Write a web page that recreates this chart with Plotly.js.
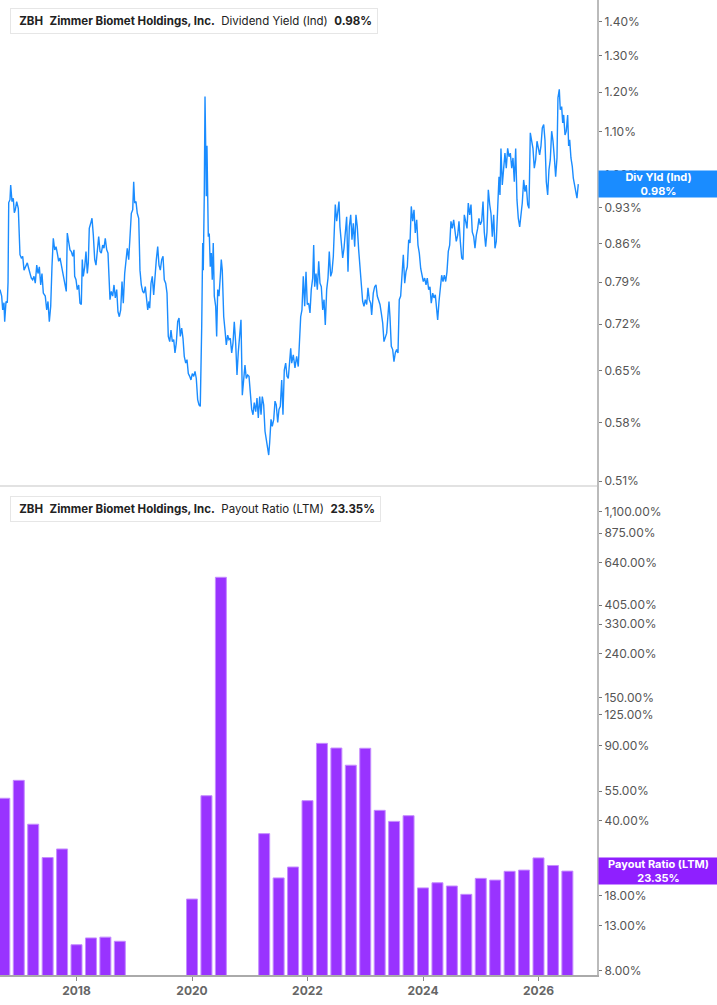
<!DOCTYPE html>
<html>
<head>
<meta charset="utf-8">
<script src="https://cdn.plot.ly/plotly-3.0.1.min.js"></script>
<style>
  html, body { margin: 0; padding: 0; background: #fff; }
  #plot { width: 717px; height: 1005px; }
</style>
</head>
<body>
<div id="plot"></div>
<script>
// dividend yield (Ind), % - dates as decimal years
const yieldYears = [
  2016.675, 2016.704, 2016.722, 2016.744, 2016.756, 2016.779, 2016.801, 2016.814, 2016.826, 2016.848,
  2016.860, 2016.883, 2016.905, 2016.923, 2016.940, 2016.964, 2016.992, 2017.009, 2017.021, 2017.044,
  2017.068, 2017.091, 2017.125, 2017.148, 2017.172, 2017.195, 2017.217, 2017.241, 2017.264, 2017.286,
  2017.311, 2017.333, 2017.356, 2017.380, 2017.402, 2017.425, 2017.459, 2017.484, 2017.506, 2017.529,
  2017.553, 2017.575, 2017.598, 2017.622, 2017.645, 2017.667, 2017.691, 2017.714, 2017.736, 2017.761,
  2017.783, 2017.806, 2017.823, 2017.840, 2017.865, 2017.887, 2017.910, 2017.934, 2017.956, 2017.968,
  2017.991, 2018.013, 2018.038, 2018.060, 2018.083, 2018.100, 2018.117, 2018.142, 2018.164, 2018.187,
  2018.204, 2018.221, 2018.246, 2018.268, 2018.291, 2018.315, 2018.337, 2018.360, 2018.384, 2018.407,
  2018.429, 2018.453, 2018.476, 2018.498, 2018.523, 2018.545, 2018.568, 2018.580, 2018.602, 2018.627,
  2018.649, 2018.672, 2018.696, 2018.718, 2018.741, 2018.765, 2018.788, 2018.810, 2018.834, 2018.857,
  2018.879, 2018.904, 2018.926, 2018.949, 2018.973, 2018.990, 2019.007, 2019.030, 2019.052, 2019.077,
  2019.099, 2019.122, 2019.146, 2019.168, 2019.191, 2019.215, 2019.233, 2019.255, 2019.267, 2019.290,
  2019.312, 2019.336, 2019.359, 2019.382, 2019.406, 2019.428, 2019.451, 2019.475, 2019.498, 2019.520,
  2019.544, 2019.567, 2019.589, 2019.614, 2019.636, 2019.659, 2019.683, 2019.705, 2019.728, 2019.752,
  2019.775, 2019.797, 2019.821, 2019.844, 2019.866, 2019.891, 2019.913, 2019.936, 2019.960, 2019.982,
  2020.005, 2020.029, 2020.052, 2020.074, 2020.098, 2020.121, 2020.143, 2020.155, 2020.168, 2020.185,
  2020.195, 2020.212, 2020.225, 2020.237, 2020.247, 2020.259, 2020.271, 2020.282, 2020.299, 2020.316,
  2020.334, 2020.351, 2020.368, 2020.386, 2020.410, 2020.427, 2020.445, 2020.467, 2020.490, 2020.507,
  2020.524, 2020.549, 2020.571, 2020.594, 2020.618, 2020.640, 2020.663, 2020.687, 2020.710, 2020.732,
  2020.756, 2020.779, 2020.802, 2020.826, 2020.848, 2020.871, 2020.895, 2020.917, 2020.940, 2020.964,
  2020.987, 2021.009, 2021.033, 2021.056, 2021.078, 2021.103, 2021.125, 2021.148, 2021.172, 2021.195,
  2021.217, 2021.241, 2021.264, 2021.286, 2021.311, 2021.328, 2021.345, 2021.368, 2021.390, 2021.415,
  2021.437, 2021.459, 2021.484, 2021.506, 2021.529, 2021.553, 2021.575, 2021.598, 2021.622, 2021.645,
  2021.667, 2021.691, 2021.709, 2021.726, 2021.754, 2021.783, 2021.812, 2021.840, 2021.857, 2021.882,
  2021.904, 2021.927, 2021.951, 2021.974, 2021.996, 2022.020, 2022.043, 2022.065, 2022.090, 2022.107,
  2022.124, 2022.147, 2022.170, 2022.194, 2022.216, 2022.239, 2022.263, 2022.286, 2022.308, 2022.332,
  2022.355, 2022.377, 2022.401, 2022.424, 2022.447, 2022.464, 2022.481, 2022.505, 2022.528, 2022.545,
  2022.562, 2022.585, 2022.609, 2022.632, 2022.654, 2022.678, 2022.701, 2022.724, 2022.748, 2022.770,
  2022.793, 2022.817, 2022.839, 2022.862, 2022.886, 2022.909, 2022.931, 2022.955, 2022.978, 2023.001,
  2023.025, 2023.047, 2023.070, 2023.094, 2023.111, 2023.139, 2023.163, 2023.186, 2023.208, 2023.233,
  2023.255, 2023.278, 2023.302, 2023.324, 2023.347, 2023.371, 2023.394, 2023.411, 2023.428, 2023.451,
  2023.475, 2023.497, 2023.520, 2023.544, 2023.567, 2023.589, 2023.613, 2023.636, 2023.659, 2023.683,
  2023.705, 2023.728, 2023.752, 2023.775, 2023.797, 2023.821, 2023.844, 2023.866, 2023.891, 2023.913,
  2023.936, 2023.960, 2023.982, 2024.005, 2024.029, 2024.052, 2024.074, 2024.098, 2024.121, 2024.143,
  2024.168, 2024.190, 2024.213, 2024.237, 2024.254, 2024.277, 2024.299, 2024.323, 2024.346, 2024.369,
  2024.393, 2024.415, 2024.438, 2024.462, 2024.484, 2024.507, 2024.531, 2024.554, 2024.576, 2024.601,
  2024.623, 2024.646, 2024.670, 2024.692, 2024.715, 2024.739, 2024.762, 2024.784, 2024.808, 2024.831,
  2024.853, 2024.878, 2024.900, 2024.923, 2024.947, 2024.969, 2024.992, 2025.016, 2025.039, 2025.061,
  2025.085, 2025.108, 2025.131, 2025.155, 2025.177, 2025.200, 2025.224, 2025.246, 2025.269, 2025.293,
  2025.316, 2025.333, 2025.350, 2025.373, 2025.397, 2025.419, 2025.442, 2025.466, 2025.489, 2025.512,
  2025.536, 2025.558, 2025.581, 2025.605, 2025.627, 2025.650, 2025.674, 2025.697, 2025.719, 2025.743,
  2025.766, 2025.788, 2025.813, 2025.835, 2025.858, 2025.882, 2025.904, 2025.927, 2025.951, 2025.974,
  2025.996, 2026.020, 2026.043, 2026.066, 2026.090, 2026.112, 2026.135, 2026.159, 2026.181, 2026.204,
  2026.228, 2026.251, 2026.273, 2026.297, 2026.320, 2026.337, 2026.360, 2026.377, 2026.401, 2026.419,
  2026.436, 2026.459, 2026.481, 2026.505, 2026.522, 2026.540, 2026.562, 2026.585, 2026.603, 2026.620,
  2026.644, 2026.666, 2026.689
];
const yieldValues = [
  0.777, 0.766, 0.743, 0.755, 0.724, 0.757, 0.755, 0.789, 0.941, 0.947,
  0.978, 0.943, 0.950, 0.920, 0.926, 0.943, 0.929, 0.886, 0.839, 0.833,
  0.836, 0.811, 0.820, 0.824, 0.814, 0.805, 0.797, 0.794, 0.800, 0.788,
  0.820, 0.805, 0.817, 0.785, 0.805, 0.771, 0.766, 0.743, 0.757, 0.724,
  0.749, 0.817, 0.870, 0.848, 0.854, 0.842, 0.827, 0.833, 0.820, 0.808,
  0.800, 0.785, 0.774, 0.880, 0.864, 0.848, 0.845, 0.836, 0.848, 0.800,
  0.794, 0.777, 0.785, 0.754, 0.752, 0.830, 0.800, 0.817, 0.845, 0.805,
  0.824, 0.889, 0.899, 0.909, 0.876, 0.830, 0.820, 0.845, 0.873, 0.845,
  0.842, 0.857, 0.851, 0.870, 0.848, 0.842, 0.788, 0.760, 0.774, 0.766,
  0.785, 0.763, 0.777, 0.740, 0.732, 0.743, 0.791, 0.754, 0.805, 0.836,
  0.851, 0.830, 0.870, 0.919, 0.926, 0.985, 0.940, 0.943, 0.919, 0.909,
  0.811, 0.785, 0.774, 0.771, 0.782, 0.760, 0.743, 0.757, 0.746, 0.788,
  0.800, 0.768, 0.808, 0.830, 0.854, 0.820, 0.811, 0.830, 0.836, 0.794,
  0.788, 0.771, 0.701, 0.693, 0.711, 0.693, 0.696, 0.676, 0.691, 0.724,
  0.730, 0.701, 0.714, 0.698, 0.671, 0.661, 0.666, 0.646, 0.642, 0.637,
  0.646, 0.642, 0.649, 0.639, 0.610, 0.603, 0.601, 0.642, 0.716, 0.861,
  0.811, 0.954, 1.188, 1.064, 0.954, 1.066, 0.968, 0.873, 0.879, 0.817,
  0.842, 0.794, 0.861, 0.766, 0.749, 0.701, 0.777, 0.766, 0.800, 0.830,
  0.811, 0.732, 0.711, 0.688, 0.703, 0.696, 0.698, 0.676, 0.691, 0.724,
  0.691, 0.644, 0.678, 0.698, 0.727, 0.616, 0.637, 0.658, 0.639, 0.644,
  0.642, 0.621, 0.597, 0.590, 0.606, 0.594, 0.612, 0.586, 0.614, 0.590,
  0.614, 0.603, 0.569, 0.559, 0.546, 0.540, 0.555, 0.584, 0.575, 0.584,
  0.608, 0.603, 0.580, 0.597, 0.601, 0.637, 0.590, 0.651, 0.661, 0.642,
  0.639, 0.671, 0.683, 0.661, 0.673, 0.654, 0.671, 0.656, 0.696, 0.732,
  0.743, 0.800, 0.749, 0.808, 0.752, 0.754, 0.738, 0.777, 0.797, 0.857,
  0.782, 0.805, 0.777, 0.827, 0.788, 0.782, 0.743, 0.760, 0.719, 0.777,
  0.797, 0.845, 0.800, 0.808, 0.836, 0.906, 0.937, 0.903, 0.923, 0.943,
  0.892, 0.867, 0.833, 0.851, 0.886, 0.912, 0.808, 0.892, 0.916, 0.867,
  0.899, 0.854, 0.916, 0.892, 0.848, 0.817, 0.782, 0.757, 0.749, 0.760,
  0.752, 0.780, 0.760, 0.754, 0.735, 0.771, 0.782, 0.785, 0.766, 0.760,
  0.752, 0.738, 0.722, 0.693, 0.701, 0.706, 0.735, 0.757, 0.732, 0.686,
  0.681, 0.663, 0.676, 0.681, 0.676, 0.760, 0.766, 0.811, 0.839, 0.788,
  0.808, 0.817, 0.867, 0.861, 0.933, 0.903, 0.926, 0.880, 0.906, 0.857,
  0.842, 0.814, 0.805, 0.791, 0.797, 0.785, 0.797, 0.777, 0.782, 0.754,
  0.771, 0.763, 0.768, 0.749, 0.727, 0.757, 0.774, 0.802, 0.791, 0.802,
  0.791, 0.808, 0.845, 0.857, 0.903, 0.889, 0.906, 0.882, 0.864, 0.876,
  0.903, 0.864, 0.833, 0.830, 0.916, 0.903, 0.889, 0.940, 0.916, 0.937,
  0.882, 0.873, 0.851, 0.876, 0.889, 0.909, 0.896, 0.903, 0.943, 0.882,
  0.854, 0.882, 0.968, 0.937, 0.919, 0.873, 0.916, 0.851, 0.864, 0.929,
  0.996, 0.957, 1.060, 0.978, 1.015, 1.049, 1.015, 1.060, 1.041, 1.049,
  1.015, 1.038, 0.985, 1.060, 0.947, 0.909, 0.892, 0.919, 0.940, 0.989,
  0.964, 0.978, 0.937, 0.929, 1.097, 1.077, 1.060, 1.015, 1.034, 1.077,
  1.064, 1.045, 1.066, 1.109, 1.117, 1.080, 0.985, 0.957, 1.011, 1.034,
  1.101, 1.077, 1.041, 0.996, 1.038, 1.185, 1.207, 1.154, 1.162, 1.121,
  1.141, 1.092, 1.101, 1.141, 1.066, 1.080, 1.038, 1.019, 0.993, 0.982,
  0.968, 0.950, 0.980
];

// payout ratio (LTM), % - quarterly
const payoutYears = [
  2016.75, 2017.0, 2017.25, 2017.5, 2017.75, 2018.0, 2018.25, 2018.5, 2018.75,
  2020.0, 2020.25, 2020.5,
  2021.25, 2021.5, 2021.75, 2022.0, 2022.25, 2022.5, 2022.75, 2023.0, 2023.25, 2023.5, 2023.75,
  2024.0, 2024.25, 2024.5, 2024.75, 2025.0, 2025.25, 2025.5, 2025.75, 2026.0, 2026.25, 2026.5
];
const payoutValues = [
  51.0, 61.8, 38.6, 27.0, 29.6, 10.6, 11.4, 11.5, 11.0,
  17.3, 52.4, 545.6,
  34.9, 21.7, 24.4, 49.7, 91.9, 87.4, 72.7, 87.2, 44.8, 39.8, 42.3,
  19.5, 20.6, 19.9, 18.2, 21.6, 21.2, 23.3, 23.6, 26.9, 24.8, 23.35
];

const yearTicks = [2018, 2020, 2022, 2024, 2026];
const yieldTicks = [0.51, 0.58, 0.65, 0.72, 0.79, 0.86, 0.93, 1.00, 1.10, 1.20, 1.30, 1.40];
const payoutTicks = [8, 13, 18, 25, 40, 55, 90, 125, 150, 240, 330, 405, 640, 875, 1100];

const lastYield = 0.98;
const lastPayout = 23.35;

const blue = '#1a8cff';
const purple = '#9933ff';
const font = 'Inter, "Noto Sans", sans-serif';

function pct(v) {
  return v.toLocaleString('en-US', { minimumFractionDigits: 2, maximumFractionDigits: 2 }) + '%';
}

const W = 597, H = 975;  // plot area px
const split = 1 - 486 / H;

const traces = [
  {
    x: yieldYears, y: yieldValues, type: 'scatter', mode: 'lines',
    line: { color: blue, width: 1.4 }, xaxis: 'x', yaxis: 'y2', hoverinfo: 'skip'
  },
  {
    x: payoutYears, y: payoutValues, type: 'bar', width: 0.19,
    marker: { color: purple, line: { color: '#c58cff', width: 1 } },
    xaxis: 'x', yaxis: 'y', hoverinfo: 'skip'
  }
];

const sp = '\u00a0\u00a0';
const layout = {
  width: 717, height: 1005,
  margin: { l: 0, r: 120, t: 0, b: 30 },
  paper_bgcolor: '#fff', plot_bgcolor: '#fff',
  showlegend: false,
  font: { family: font, color: '#555' },
  xaxis: {
    range: [2016.675, 2027.013], showgrid: false, zeroline: false,
    anchor: 'y', showline: true, linecolor: '#aaa', linewidth: 2,
    ticks: 'outside', ticklen: 4, tickcolor: '#888',
    tickvals: yearTicks, ticktext: yearTicks.map(String),
    tickfont: { family: font, size: 12, color: '#666', weight: 700 }
  },
  yaxis: {
    domain: [0, split], type: 'log', range: [0.8843, 3.1621], side: 'right', anchor: 'x',
    showgrid: false, zeroline: false, showline: true, linecolor: '#bbb', linewidth: 2,
    ticks: 'outside', ticklen: 3, tickcolor: '#777',
    tickvals: payoutTicks, ticktext: payoutTicks.map(pct),
    tickfont: { family: font, size: 12, color: '#555' }
  },
  yaxis2: {
    domain: [split, 1], type: 'log', range: [-0.2972, 0.1671], side: 'right', anchor: 'x',
    showgrid: false, zeroline: false, showline: true, linecolor: '#bbb', linewidth: 2,
    ticks: 'outside', ticklen: 3, tickcolor: '#777',
    tickvals: yieldTicks, ticktext: yieldTicks.map(pct),
    tickfont: { family: font, size: 12, color: '#555' }
  },
  shapes: [
    { type: 'line', xref: 'paper', yref: 'paper', x0: 0, x1: 1, y0: split, y1: split,
      line: { color: '#e2e2e2', width: 2 } },
    { type: 'rect', xref: 'paper', yref: 'paper', x0: 10 / W, x1: 13 / W, y0: 1 - 33 / H, y1: 1 - 8 / H,
      fillcolor: blue, line: { width: 0 }, layer: 'above' },
    { type: 'rect', xref: 'paper', yref: 'paper', x0: 10 / W, x1: 13 / W, y0: 1 - 521 / H, y1: 1 - 496 / H,
      fillcolor: purple, line: { width: 0 }, layer: 'above' }
  ],
  annotations: [
    { xref: 'paper', yref: 'paper', x: 10 / W, y: 1 - 8 / H, xanchor: 'left', yanchor: 'top',
      showarrow: false, align: 'left', bgcolor: '#fff', bordercolor: '#e6e6e6', borderwidth: 1, borderpad: 5,
      font: { family: font, size: 11.5, color: '#222' },
      text: '\u00a0<b>ZBH</b>' + sp + '<b>Zimmer Biomet Holdings, Inc.</b>' + sp + 'Dividend Yield (Ind)' + sp + '<b>' + pct(lastYield) + '</b>' },
    { xref: 'paper', yref: 'paper', x: 10 / W, y: 1 - 496 / H, xanchor: 'left', yanchor: 'top',
      showarrow: false, align: 'left', bgcolor: '#fff', bordercolor: '#e6e6e6', borderwidth: 1, borderpad: 5,
      font: { family: font, size: 11.5, color: '#222' },
      text: '\u00a0<b>ZBH</b>' + sp + '<b>Zimmer Biomet Holdings, Inc.</b>' + sp + 'Payout Ratio (LTM)' + sp + '<b>' + pct(lastPayout) + '</b>' },
    { xref: 'paper', yref: 'y2', x: 1.002, y: Math.log10(lastYield), xanchor: 'left', yanchor: 'middle',
      showarrow: false, align: 'center', bgcolor: blue, borderpad: 2, width: 115, height: 22,
      font: { family: font, size: 11, color: '#fff' },
      text: '<b>Div Yld (Ind)</b><br><b>' + pct(lastYield) + '</b>' },
    { xref: 'paper', yref: 'y', x: 1.002, y: Math.log10(lastPayout), xanchor: 'left', yanchor: 'middle',
      showarrow: false, align: 'center', bgcolor: '#8f1fff', borderpad: 2, width: 115, height: 22,
      font: { family: font, size: 11, color: '#fff' },
      text: '<b>Payout Ratio (LTM)</b><br><b>' + pct(lastPayout) + '</b>' }
  ]
};

Plotly.newPlot('plot', traces, layout, { displayModeBar: false, staticPlot: true });
</script>
</body>
</html>
